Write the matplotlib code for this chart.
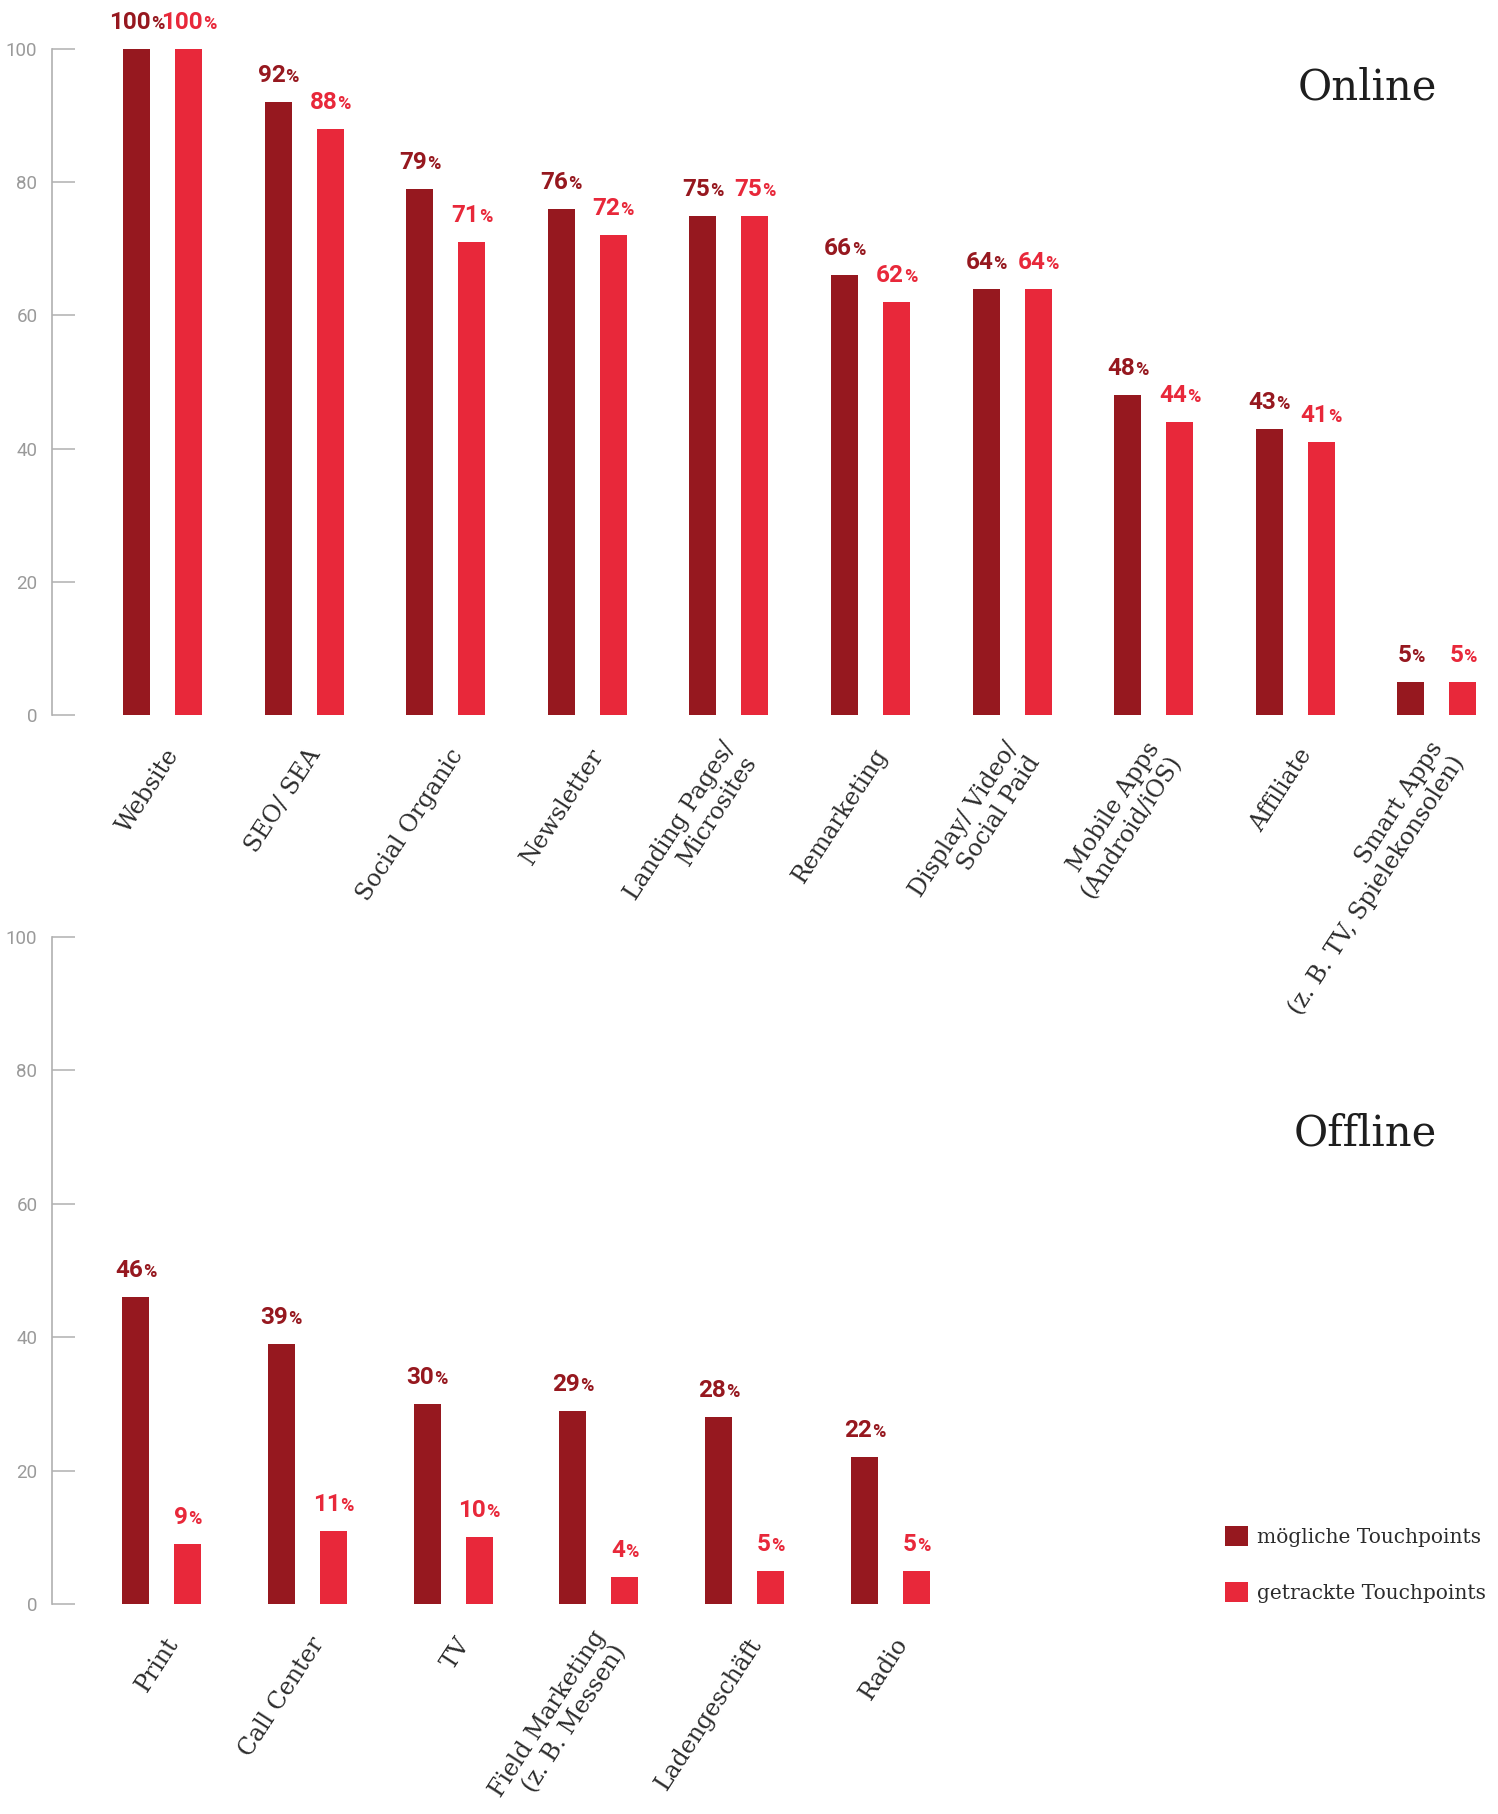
import matplotlib

matplotlib.use("Agg")
import matplotlib.pyplot as plt
from matplotlib.font_manager import FontProperties
from matplotlib.transforms import offset_copy

# Touchpoint shares in percent
online_labels = [
    "Website", "SEO/ SEA", "Social Organic", "Newsletter",
    "Landing Pages/\nMicrosites", "Remarketing", "Display/ Video/\nSocial Paid",
    "Mobile Apps\n(Android/iOS)", "Affiliate",
    "Smart Apps\n(z. B. TV, Spielekonsolen)",
]
online_possible = [100, 92, 79, 76, 75, 66, 64, 48, 43, 5]
online_tracked = [100, 88, 71, 72, 75, 62, 64, 44, 41, 5]

offline_labels = [
    "Print", "Call Center", "TV", "Field Marketing\n(z. B. Messen)",
    "Ladengeschäft", "Radio",
]
offline_possible = [46, 39, 30, 29, 28, 22]
offline_tracked = [9, 11, 10, 4, 5, 5]

yticks = [0, 20, 40, 60, 80, 100]

DARK = "#96181f"
LIGHT = "#e8283a"
GREY = "#b0b0b0"
TEXT = "#2b2b2b"
SERIF = "DejaVu Serif"

W, H = 1498, 1814
fig = plt.figure(figsize=(W / 100, H / 100), dpi=100)
renderer = fig.canvas.get_renderer()


def text_width(s, prop):
    w, _, _ = renderer.get_text_width_height_descent(s, prop, ismath=False)
    return w


def px_axes(left, top, right, bottom):
    ax = fig.add_axes([left / W, 1 - bottom / H, (right - left) / W, (bottom - top) / H])
    ax.patch.set_visible(False)
    return ax


num_prop = FontProperties(family="Roboto", weight="bold", size=17.5)
pct_prop = FontProperties(family="Roboto", weight="bold", size=13)
cat_prop = FontProperties(family=SERIF, size=17)


def value_label(ax, cx, v, color):
    # big number followed by a smaller percent sign, centred over the bar
    wn = text_width(str(v), num_prop)
    wp = text_width("%", pct_prop)
    start = -(wn + wp) / 2
    ax.text(cx, v, str(v), color=color, fontproperties=num_prop, va="baseline",
            ha="left", clip_on=False,
            transform=offset_copy(ax.transData, fig, x=start, y=20, units="dots"))
    ax.text(cx, v, "%", color=color, fontproperties=pct_prop, va="baseline",
            ha="left", clip_on=False,
            transform=offset_copy(ax.transData, fig, x=start + wn, y=20, units="dots"))


def draw_panel(ax, labels, possible, tracked, spacing, first_center):
    n = len(labels)
    x = list(range(n))
    half = 26 / spacing
    width = 27 / spacing
    left = -(first_center - 52) / spacing
    ax.set_xlim(left, left + 1428 / spacing)
    ax.set_ylim(0, 100)

    dark = ax.bar([i - half for i in x], possible, width=width, color=DARK,
                  label="mögliche Touchpoints")
    light = ax.bar([i + half for i in x], tracked, width=width, color=LIGHT,
                   label="getrackte Touchpoints")

    for bars, values, color in ((dark, possible, DARK), (light, tracked, LIGHT)):
        for rect, v in zip(bars, values):
            value_label(ax, rect.get_x() + rect.get_width() / 2, v, color)

    label_tf = offset_copy(ax.transData, fig, x=12, y=-36, units="dots")
    for i, lab in zip(x, labels):
        ax.text(i, 0, lab, rotation=57, rotation_mode="anchor", ha="right",
                va="center", multialignment="right", linespacing=1.15,
                fontproperties=cat_prop, color=TEXT, clip_on=False,
                transform=label_tf)

    for side in ("top", "right", "bottom"):
        ax.spines[side].set_visible(False)
    ax.spines["left"].set_color(GREY)
    ax.spines["left"].set_linewidth(1.2)
    ax.set_xticks([])
    ax.set_yticks(yticks)
    ax.tick_params(axis="y", direction="in", length=16.5, width=1.1, color=GREY,
                   labelcolor="#9a9a9a", labelsize=13.5, pad=10.5)
    for t in ax.get_yticklabels():
        t.set_fontfamily("Roboto")


ax_on = px_axes(52, 49, 1480, 715)
ax_off = px_axes(52, 937, 1480, 1604)

draw_panel(ax_on, online_labels, online_possible, online_tracked, 141.6, 162.5)
draw_panel(ax_off, offline_labels, offline_possible, offline_tracked, 145.8, 161.5)

fig.text(1437 / W, 1 - 99 / H, "Online", ha="right", va="baseline",
         fontsize=30, family=SERIF, color="#1e1e1e")
fig.text(1437 / W, 1 - 1145 / H, "Offline", ha="right", va="baseline",
         fontsize=30, family=SERIF, color="#1e1e1e")

ax_off.legend(loc="upper left", bbox_to_anchor=(1217 / W, 1 - 1518 / H),
              bbox_transform=fig.transFigure, frameon=False,
              prop={"family": SERIF, "size": 14.5}, labelcolor=TEXT,
              handlelength=1.15, handleheight=1.15, handletextpad=0.45,
              labelspacing=1.75, borderaxespad=0)

fig.savefig("out.png", dpi=100)
